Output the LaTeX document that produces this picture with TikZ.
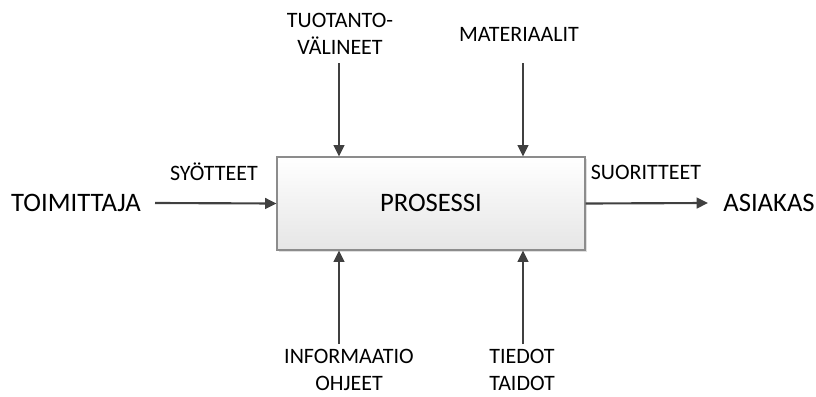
\documentclass[tikz,border=0pt]{standalone}
\usepackage{fontspec}
\setmainfont{Carlito}
\usetikzlibrary{arrows.meta,shadows}
\definecolor{arrowgray}{HTML}{404040}
\definecolor{boxborder}{HTML}{8C8C8C}
\begin{document}
\begin{tikzpicture}[x=0.75pt,y=-0.75pt,
  flow/.style={draw=arrowgray,line width=1.6pt,-{Triangle[length=8.5pt,width=8pt]}},
  small/.style={font=\fontsize{16.5pt}{20pt}\selectfont,text=black,inner sep=0pt,align=center},
  big/.style={font=\fontsize{20pt}{24pt}\selectfont,text=black,inner sep=0pt},
  procbox/.style={draw=boxborder,line width=0.8pt,top color=white,bottom color=black!10,
    drop shadow={shadow xshift=1.5pt,shadow yshift=-1.5pt,opacity=0.25,fill=black!50},
    minimum width=231pt,minimum height=69.75pt,inner sep=0pt}]
\useasboundingbox (0,0) rectangle (816,396);
\node[procbox] (p) at (431,203.5) {};
\node[big] (pt) at (431,203) {PROSESSI};
\node[big] (toim) at (76,203) {TOIMITTAJA};
\node[big] (asi) at (769,203) {ASIAKAS};
\node[small] (syo) at (214,172) {SYÖTTEET};
\node[small] (suo) at (646,172) {SUORITTEET};
\node[small] (tuo) at (340,34) {TUOTANTO-\\VÄLINEET};
\node[small] (mat) at (519,34) {MATERIAALIT};
\node[small] (inf) at (349,370) {INFORMAATIO\\OHJEET};
\node[small] (tie) at (522,370) {TIEDOT\\TAIDOT};
\coordinate (lS) at (155,203);
\coordinate (rE) at (708,203);
\coordinate (t1) at (339,63);
\coordinate (t2) at (523,63);
\coordinate (b1) at (339,344);
\coordinate (b2) at (523,344);
\draw[flow] (lS) -- (p.west);
\draw[flow] (p.east) -- (rE);
\draw[flow] (t1) -- (t1 |- p.north);
\draw[flow] (t2) -- (t2 |- p.north);
\draw[flow] (b1) -- (b1 |- p.south);
\draw[flow] (b2) -- (b2 |- p.south);
\end{tikzpicture}
\end{document}
